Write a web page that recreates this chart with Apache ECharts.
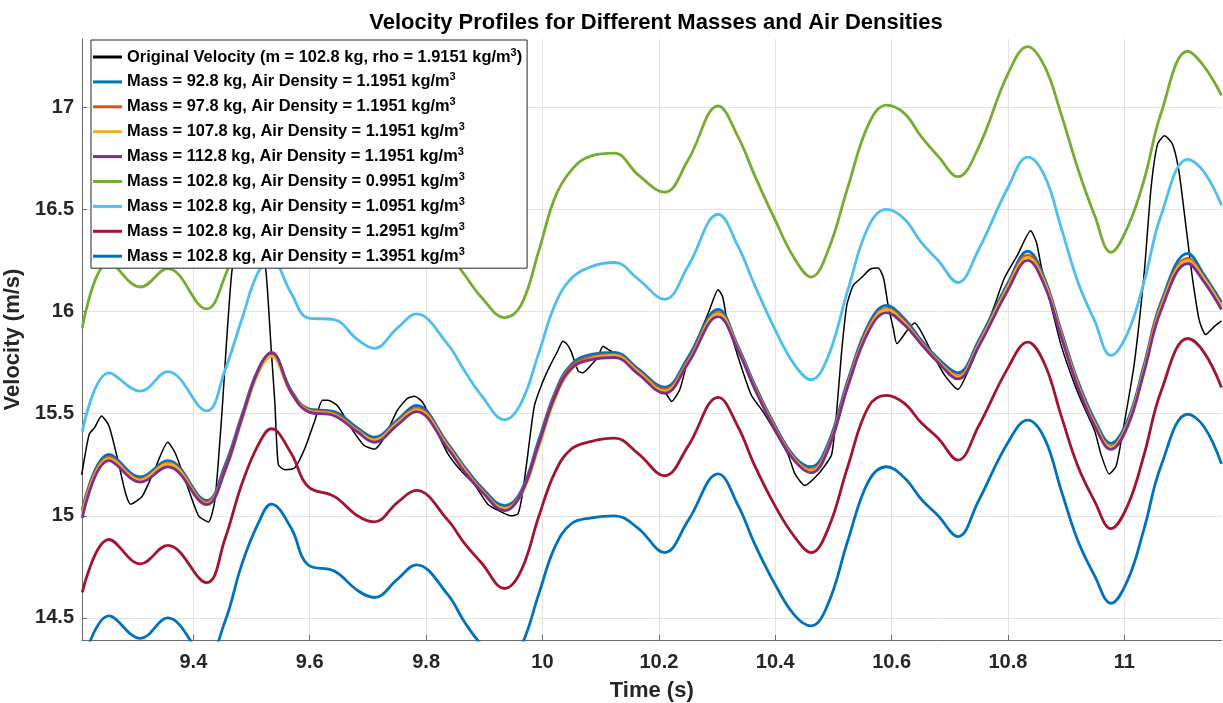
<!DOCTYPE html>
<html>
<head>
<meta charset="utf-8">
<script src="https://cdn.jsdelivr.net/npm/echarts@6/dist/echarts.min.js"></script>
<style>html,body{margin:0;padding:0;background:#fff}#chart{width:1223px;height:703px}</style>
</head>
<body>
<div id="chart"></div>
<script>
// ---- data ----
const time = [9.209, 9.255, 9.309, 9.356, 9.423, 9.454, 9.483, 9.511, 9.534, 9.568,
  9.597, 9.642, 9.682, 9.711, 9.751, 9.783, 9.837, 9.866, 9.895, 9.935,
  9.963, 9.994, 10.021, 10.049, 10.084, 10.124, 10.164, 10.21, 10.25, 10.302,
  10.336, 10.365, 10.399, 10.433, 10.462, 10.491, 10.525, 10.56, 10.591, 10.622,
  10.651, 10.68, 10.714, 10.749, 10.8, 10.834, 10.863, 10.891, 10.92, 10.949,
  10.977, 11.006, 11.034, 11.063, 11.109, 11.137, 11.167];

const mass92 = [15.03, 15.30, 15.19, 15.27, 15.075, 15.245, 15.49, 15.715, 15.795, 15.615,
  15.525, 15.51, 15.43, 15.385, 15.47, 15.54, 15.355, 15.24, 15.14, 15.05,
  15.12, 15.375, 15.60, 15.74, 15.79, 15.80, 15.72, 15.63, 15.775, 16.01,
  15.83, 15.64, 15.445, 15.29, 15.24, 15.355, 15.665, 15.935, 16.03, 15.965,
  15.86, 15.77, 15.70, 15.855, 16.14, 16.295, 16.16, 15.91, 15.66, 15.47,
  15.355, 15.47, 15.74, 16.045, 16.285, 16.18, 16.045];

const mass97 = [15.02, 15.287, 15.18, 15.26, 15.067, 15.23, 15.48, 15.71, 15.796, 15.61,
  15.52, 15.50, 15.42, 15.374, 15.46, 15.527, 15.345, 15.23, 15.13, 15.038,
  15.11, 15.36, 15.59, 15.73, 15.777, 15.79, 15.71, 15.618, 15.76, 15.996,
  15.82, 15.63, 15.436, 15.28, 15.225, 15.34, 15.65, 15.92, 16.015, 15.95,
  15.85, 15.76, 15.685, 15.84, 16.127, 16.276, 16.146, 15.896, 15.647, 15.455,
  15.34, 15.455, 15.724, 16.03, 16.26, 16.165, 16.03];

const mass107 = [15.01, 15.28, 15.175, 15.255, 15.06, 15.215, 15.465, 15.695, 15.78, 15.60,
  15.515, 15.495, 15.415, 15.37, 15.455, 15.52, 15.34, 15.225, 15.125, 15.035,
  15.10, 15.34, 15.57, 15.715, 15.77, 15.785, 15.705, 15.61, 15.75, 15.99,
  15.815, 15.625, 15.43, 15.275, 15.22, 15.33, 15.64, 15.91, 16.01, 15.945,
  15.845, 15.755, 15.68, 15.835, 16.12, 16.265, 16.14, 15.89, 15.64, 15.45,
  15.335, 15.45, 15.715, 16.02, 16.25, 16.16, 16.025];

const mass112 = [14.99, 15.27, 15.165, 15.24, 15.055, 15.22, 15.475, 15.71, 15.80, 15.605,
  15.51, 15.49, 15.41, 15.36, 15.445, 15.51, 15.33, 15.215, 15.12, 15.025,
  15.105, 15.355, 15.58, 15.72, 15.765, 15.775, 15.695, 15.60, 15.745, 15.975,
  15.81, 15.62, 15.425, 15.27, 15.21, 15.325, 15.635, 15.90, 15.995, 15.935,
  15.84, 15.75, 15.67, 15.825, 16.105, 16.25, 16.125, 15.88, 15.63, 15.44,
  15.325, 15.44, 15.705, 16.005, 16.235, 16.145, 16.01];

const rho09951 = [15.92, 16.24, 16.12, 16.21, 16.013, 16.17, 16.42, 16.65, 16.74, 16.56,
  16.47, 16.45, 16.37, 16.32, 16.41, 16.48, 16.29, 16.18, 16.07, 15.97,
  16.03, 16.30, 16.555, 16.69, 16.762, 16.775, 16.67, 16.584, 16.74, 17.006,
  16.856, 16.664, 16.453, 16.26, 16.169, 16.30, 16.61, 16.914, 17.01, 16.97,
  16.856, 16.76, 16.66, 16.80, 17.163, 17.297, 17.20, 16.97, 16.70, 16.47,
  16.29, 16.415, 16.645, 16.97, 17.274, 17.20, 17.058];

const rho10951 = [15.412, 15.70, 15.61, 15.706, 15.514, 15.71, 15.96, 16.19, 16.25, 16.09,
  15.969, 15.96, 15.863, 15.82, 15.92, 15.988, 15.84, 15.71, 15.59, 15.47,
  15.55, 15.80, 16.03, 16.16, 16.22, 16.24, 16.16, 16.06, 16.22, 16.476,
  16.32, 16.127, 15.916, 15.74, 15.666, 15.78, 16.107, 16.415, 16.50, 16.453,
  16.338, 16.25, 16.142, 16.30, 16.607, 16.756, 16.664, 16.414, 16.146, 15.954,
  15.785, 15.897, 16.146, 16.47, 16.745, 16.683, 16.52];

const rho12951 = [14.625, 14.884, 14.765, 14.855, 14.673, 14.884, 15.153, 15.345, 15.426, 15.306,
  15.143, 15.095, 15.0, 14.97, 15.066, 15.124, 14.98, 14.865, 14.77, 14.644,
  14.73, 15.0, 15.21, 15.326, 15.364, 15.38, 15.306, 15.196, 15.34, 15.58,
  15.436, 15.244, 15.052, 14.898, 14.82, 14.937, 15.244, 15.532, 15.589, 15.55,
  15.455, 15.38, 15.273, 15.436, 15.724, 15.85, 15.743, 15.494, 15.244, 15.071,
  14.937, 15.052, 15.30, 15.608, 15.868, 15.80, 15.628];

const rho13951 = [14.27, 14.51, 14.40, 14.50, 14.31, 14.48, 14.76, 14.96, 15.057, 14.94,
  14.76, 14.73, 14.635, 14.60, 14.69, 14.76, 14.615, 14.48, 14.37, 14.27,
  14.36, 14.62, 14.845, 14.96, 14.99, 15.0, 14.94, 14.82, 14.975, 15.205,
  15.052, 14.86, 14.668, 14.514, 14.461, 14.57, 14.88, 15.167, 15.24, 15.186,
  15.081, 15.0, 14.898, 15.071, 15.359, 15.468, 15.378, 15.129, 14.879, 14.706,
  14.572, 14.687, 14.937, 15.244, 15.497, 15.436, 15.254];

// original velocity: [time, velocity]
const originalVelocity = [[9.208, 15.20], [9.221, 15.40], [9.23, 15.43], [9.242, 15.489], [9.255, 15.44],
  [9.269, 15.287], [9.283, 15.115], [9.292, 15.057], [9.312, 15.095], [9.334, 15.23], [9.356, 15.36],
  [9.369, 15.306], [9.391, 15.134], [9.409, 15.0], [9.426, 14.97], [9.437, 15.076], [9.448, 15.46],
  [9.466, 16.19], [9.49, 16.6], [9.51, 16.5], [9.525, 16.19], [9.534, 15.806], [9.54, 15.556],
  [9.546, 15.25], [9.557, 15.226], [9.574, 15.234], [9.591, 15.326], [9.608, 15.46], [9.622, 15.566],
  [9.631, 15.566], [9.648, 15.537], [9.671, 15.43], [9.693, 15.345], [9.711, 15.326], [9.728, 15.383],
  [9.751, 15.518], [9.768, 15.575], [9.78, 15.585], [9.794, 15.556], [9.814, 15.44], [9.837, 15.306],
  [9.86, 15.22], [9.883, 15.153], [9.906, 15.057], [9.923, 15.028], [9.946, 15.0], [9.958, 15.01],
  [9.966, 15.115], [9.975, 15.306], [9.986, 15.537], [10.0, 15.652], [10.012, 15.729], [10.026, 15.806],
  [10.035, 15.854], [10.041, 15.844], [10.049, 15.806], [10.061, 15.71], [10.069, 15.70], [10.084, 15.739],
  [10.095, 15.777], [10.104, 15.83], [10.112, 15.816], [10.13, 15.787], [10.164, 15.71], [10.193, 15.64],
  [10.21, 15.608], [10.222, 15.56], [10.236, 15.618], [10.25, 15.762], [10.268, 15.877], [10.285, 15.992],
  [10.302, 16.107], [10.31, 16.069], [10.316, 15.973], [10.336, 15.78], [10.359, 15.59], [10.379, 15.51],
  [10.399, 15.416], [10.422, 15.30], [10.434, 15.205], [10.451, 15.148], [10.468, 15.186], [10.485, 15.244],
  [10.497, 15.30], [10.505, 15.49], [10.514, 15.80], [10.523, 16.03], [10.534, 16.127], [10.548, 16.165],
  [10.563, 16.207], [10.577, 16.213], [10.586, 16.165], [10.594, 16.031], [10.603, 15.916], [10.609, 15.843],
  [10.629, 15.916], [10.64, 15.944], [10.652, 15.896], [10.669, 15.80], [10.692, 15.685], [10.714, 15.618],
  [10.731, 15.705], [10.754, 15.858], [10.777, 16.03], [10.794, 16.165], [10.817, 16.28], [10.839, 16.395],
  [10.849, 16.338], [10.857, 16.223], [10.874, 16.03], [10.891, 15.838], [10.914, 15.647], [10.931, 15.53],
  [10.949, 15.416], [10.96, 15.30], [10.974, 15.205], [10.986, 15.244], [11.0, 15.455], [11.017, 15.743],
  [11.034, 16.184], [11.046, 16.607], [11.057, 16.818], [11.069, 16.86], [11.083, 16.818], [11.094, 16.683],
  [11.106, 16.415], [11.117, 16.165], [11.129, 15.954], [11.14, 15.887], [11.154, 15.925], [11.167, 15.954]];

const xTicks = [9.4, 9.6, 9.8, 10, 10.2, 10.4, 10.6, 10.8, 11];
const yTicks = [14.5, 15, 15.5, 16, 16.5, 17];

const seriesNames = [
  'Original Velocity (m = 102.8 kg, rho = 1.9151 kg/m^3)',
  'Mass = 92.8 kg, Air Density = 1.1951 kg/m^3',
  'Mass = 97.8 kg, Air Density = 1.1951 kg/m^3',
  'Mass = 107.8 kg, Air Density = 1.1951 kg/m^3',
  'Mass = 112.8 kg, Air Density = 1.1951 kg/m^3',
  'Mass = 102.8 kg, Air Density = 0.9951 kg/m^3',
  'Mass = 102.8 kg, Air Density = 1.0951 kg/m^3',
  'Mass = 102.8 kg, Air Density = 1.2951 kg/m^3',
  'Mass = 102.8 kg, Air Density = 1.3951 kg/m^3'
];
const smoothData = [mass92, mass97, mass107, mass112, rho09951, rho10951, rho12951, rho13951];
const colors = ['#000000', '#0072BD', '#D95319', '#EDB120', '#7E2F8E', '#77AC30', '#4DBEEE', '#A2142F', '#0072BD'];

// ---- chart ----
const FONT = "'Liberation Sans', Arial, Helvetica, sans-serif";
const chart = echarts.init(document.getElementById('chart'), null, {renderer: 'canvas'});

const series = [{
  name: seriesNames[0], type: 'line', data: originalVelocity, symbol: 'none', showSymbol: false,
  smooth: 0.2, lineStyle: {color: colors[0], width: 1.5}, itemStyle: {color: colors[0]}, z: 2
}];
smoothData.forEach((arr, i) => {
  series.push({
    name: seriesNames[i + 1], type: 'line', symbol: 'none', showSymbol: false, smooth: 0.4,
    data: time.map((t, k) => [t, arr[k]]),
    lineStyle: {color: colors[i + 1], width: 2.8}, itemStyle: {color: colors[i + 1]}, z: 2
  });
});

const legendData = seriesNames.map((n, i) => ({
  name: n, icon: 'rect', itemStyle: {color: colors[i]}
}));

const option = {
  animation: false,
  backgroundColor: '#ffffff',
  title: {
    text: 'Velocity Profiles for Different Masses and Air Densities',
    left: 651, top: 7, textAlign: 'center',
    textStyle: {fontFamily: FONT, fontSize: 22, fontWeight: 'bold', color: '#000'}
  },
  legend: {
    orient: 'vertical', left: 91, top: 40,
    padding: [7, 5, 4, 2], itemGap: 6.9, itemWidth: 29, itemHeight: 3,
    backgroundColor: '#ffffff', borderColor: '#262626', borderWidth: 1, borderRadius: 0,
    data: legendData,
    formatter: name => {
      const parts = name.split('^3');
      return '{n|' + parts[0] + '}{s|3}' + (parts[1] ? '{n|' + parts[1] + '}' : '');
    },
    textStyle: {
      fontFamily: FONT, fontSize: 16.4, fontWeight: 'bold', color: '#000',
      rich: {
        n: {fontFamily: FONT, fontSize: 16.4, fontWeight: 'bold', color: '#000', lineHeight: 20},
        s: {fontFamily: FONT, fontSize: 11, fontWeight: 'bold', color: '#000', verticalAlign: 'top', lineHeight: 12}
      }
    }
  },
  grid: {left: 82, right: 1.5, top: 39, bottom: 63, containLabel: false, outerBoundsMode: 'none'},
  xAxis: {
    type: 'value', min: 9.2086, max: 11.167,
    name: 'Time (s)', nameLocation: 'middle', nameGap: 40,
    nameTextStyle: {fontFamily: FONT, fontSize: 22, fontWeight: 'bold', color: '#262626'},
    axisLine: {show: true, onZero: false, lineStyle: {color: '#6b6b6b', width: 1}},
    axisTick: {show: true, inside: true, length: 5, customValues: xTicks, lineStyle: {color: '#6b6b6b'}},
    axisLabel: {customValues: xTicks, fontFamily: FONT, fontSize: 20, fontWeight: 'bold', color: '#262626', margin: 12},
    splitLine: {show: true, lineStyle: {color: '#e3e3e3', width: 1}}
  },
  yAxis: {
    type: 'value', min: 14.392, max: 17.334,
    name: 'Velocity (m/s)', nameLocation: 'middle', nameGap: 35,
    nameTextStyle: {fontFamily: FONT, fontSize: 22, fontWeight: 'bold', color: '#262626'},
    axisLine: {show: true, onZero: false, lineStyle: {color: '#6b6b6b', width: 1}},
    axisTick: {show: true, inside: true, length: 5, customValues: yTicks, lineStyle: {color: '#6b6b6b'}},
    axisLabel: {customValues: yTicks, fontFamily: FONT, fontSize: 20, fontWeight: 'bold', color: '#262626', margin: 8},
    splitLine: {show: true, lineStyle: {color: '#e3e3e3', width: 1}}
  },
  series: series
};
chart.setOption(option);
</script>
</body>
</html>
